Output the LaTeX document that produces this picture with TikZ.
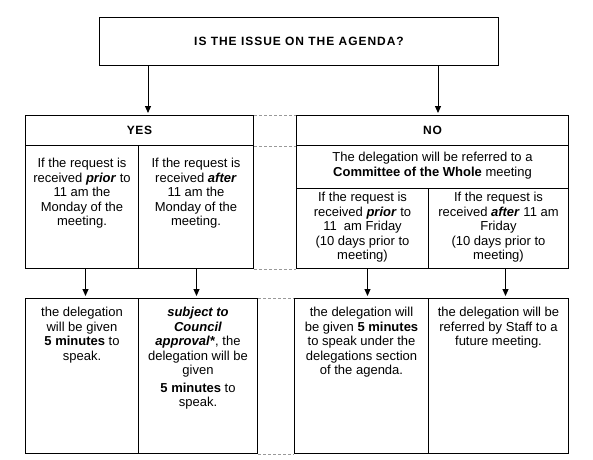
\documentclass[tikz,border=0pt]{standalone}
\usepackage{fontspec}
\setmainfont{Liberation Sans}
\usetikzlibrary{arrows.meta}
\definecolor{gapline}{HTML}{999999}
% width, height, top gap, text
\newcommand{\cellbox}[4]{\parbox[t][#2pt][t]{#1pt}{\centering\vspace*{#3pt}#4}}

\begin{document}
\begin{tikzpicture}[x=1pt, y=1pt, >={Triangle[width=6pt,length=7pt]},
  cell/.style={draw, line width=1pt, inner sep=0pt, anchor=north west,
               font=\fontsize{13}{14.5}\selectfont},
  hdr/.style={cell, font=\bfseries\fontsize{12}{14}\selectfont\addfontfeature{LetterSpace=6}},
  gap/.style={draw=gapline, line width=1pt, dash pattern=on 3pt off 2pt},
  flow/.style={->, line width=1pt, shorten >=2pt}]
  \useasboundingbox (0,0) rectangle (593,-459);
  \node[hdr, font=\bfseries\fontsize{12}{14}\selectfont\addfontfeature{LetterSpace=8},
        minimum width=399, minimum height=48] (q) at (99,-17) {IS THE ISSUE ON THE AGENDA?};

  % yes side
  \node[hdr, minimum width=228, minimum height=30] (yes) at (25,-115) {YES};
  \node[cell] (ya) at (25,-145) {\cellbox{113}{123}{13}{If the request is\\ received \textbf{\textit{prior}} to\\ 11 am the\\ Monday of the\\ meeting.}};
  \node[cell] (yb) at (138,-145) {\cellbox{115}{123}{13}{If the request is\\ received \textbf{\textit{after}}\\ 11 am the\\ Monday of the\\ meeting.}};
  \node[cell] (yc) at (25,-298) {\cellbox{113}{155}{9}{the delegation\\ will be given\\ \textbf{5 minutes} to\\ speak.}};
  \node[cell] (yd) at (138,-298) {\cellbox{119}{155}{9}{\textbf{\textit{subject to}}\\ \textbf{\textit{Council}}\\ \textbf{\textit{approval*}}, the\\ delegation will be\\ given\\[3pt] \textbf{5 minutes} to\\ speak.}};

  % no side
  \node[hdr, minimum width=272, minimum height=30] (no) at (296,-115) {NO};
  \node[cell] (nr) at (296,-145) {\cellbox{272}{43}{7}{The delegation will be referred to a\\ \textbf{Committee of the Whole} meeting}};
  \node[cell] (na) at (296,-188) {\cellbox{132}{80}{4}{If the request is\\ received \textbf{\textit{prior}} to\\ 11~ am Friday\\ (10 days prior to\\ meeting)}};
  \node[cell] (nb) at (428,-188) {\cellbox{140}{80}{4}{If the request is\\ received \textbf{\textit{after}} 11 am\\ Friday\\ (10 days prior to\\ meeting)}};
  \node[cell] (nc) at (294,-298) {\cellbox{134}{155}{9}{the delegation will\\ be given \textbf{5 minutes}\\ to speak under the\\ delegations section\\ of the agenda.}};
  \node[cell] (nd) at (428,-298) {\cellbox{140}{155}{9}{the delegation will be\\ referred by Staff to a\\ future meeting.}};

  % gaps between the two tables
  \draw[gap] (yes.north east) -- (no.north west);
  \draw[gap] (yes.south east) -- (no.south west);
  \draw[gap] (yb.south east) -- (na.south west);
  \draw[gap] (yd.north east) -- (nc.north west);
  \draw[gap] (yd.south east) -- (nc.south west);

  % arrows
  \coordinate (ay) at (148,0);
  \coordinate (an) at (438,0);
  \draw[flow] (q.south -| ay) -- (yes.north -| ay);
  \draw[flow] (q.south -| an) -- (no.north -| an);
  \draw[flow] ([xshift=3.5]ya.south) -- ([xshift=3.5]ya.south |- yc.north);
  \draw[flow] ([xshift=0.5]yb.south) -- ([xshift=0.5]yb.south |- yd.north);
  \draw[flow] ([xshift=5]na.south) -- ([xshift=5]na.south |- nc.north);
  \draw[flow] ([xshift=7]nb.south) -- ([xshift=7]nb.south |- nd.north);
\end{tikzpicture}
\end{document}
